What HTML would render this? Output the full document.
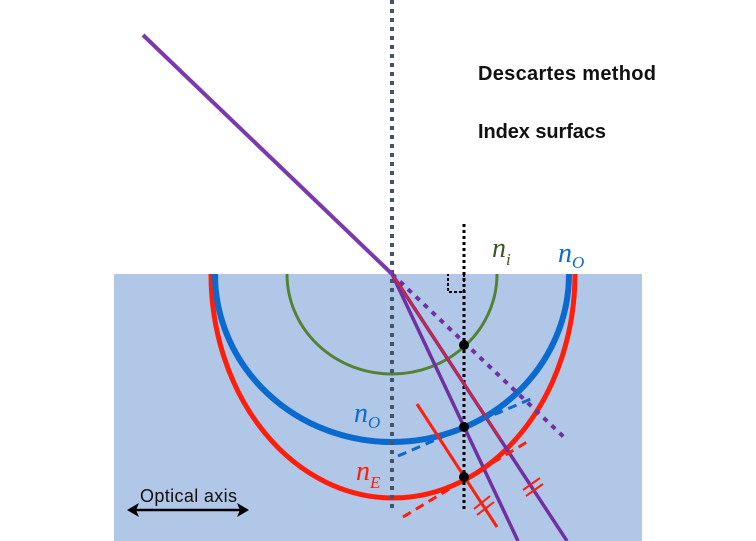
<!DOCTYPE html>
<html><head><meta charset="utf-8"><style>
html,body{margin:0;padding:0;background:#fff;width:756px;height:541px;overflow:hidden}
svg{display:block}
</style></head><body>
<svg width="756" height="541" viewBox="0 0 756 541" xmlns="http://www.w3.org/2000/svg">
<rect x="114" y="274" width="528" height="267" fill="#b0c7e7"/>
<text x="478" y="80" font-family="Liberation Sans, sans-serif" font-weight="bold" font-size="20" fill="#111" textLength="178">Descartes method</text>
<text x="478" y="138" font-family="Liberation Sans, sans-serif" font-weight="bold" font-size="20" fill="#111" textLength="128">Index surfacs</text>
<!-- arcs -->
<path d="M287,274 A105,100 0 0 0 497,274" fill="none" stroke="#548235" stroke-width="3"/>
<path d="M211,274 A182,224 0 0 0 575,274" fill="none" stroke="#fe1e0a" stroke-width="5"/>
<path d="M215,274 A177,168 0 0 0 569,274" fill="none" stroke="#0a6ad0" stroke-width="6"/>
<!-- vertical dotted lines -->
<line x1="392" y1="0" x2="392" y2="512" stroke="#44546a" stroke-width="4" stroke-dasharray="4,5"/>
<line x1="464" y1="224" x2="464" y2="510" stroke="#000" stroke-width="3" stroke-dasharray="3,3"/>
<path d="M464,274 V292 H448 V274" fill="none" stroke="#000" stroke-width="2" stroke-dasharray="3,2"/>
<!-- purple rays -->
<line x1="143" y1="35" x2="392" y2="274" stroke="#7a3aad" stroke-width="4"/>
<line x1="392" y1="274" x2="567" y2="440" stroke="#7030a0" stroke-width="4" stroke-dasharray="5,6"/>
<line x1="392" y1="274" x2="518" y2="541" stroke="#7030a0" stroke-width="3.5"/>
<line x1="392" y1="274" x2="567" y2="541" stroke="#7030a0" stroke-width="3.5"/>
<line x1="394" y1="277" x2="501" y2="440" stroke="#fe1e0a" stroke-width="1.5"/>
<!-- tangents -->
<line x1="398" y1="456" x2="533" y2="398" stroke="#0a6ad0" stroke-width="3" stroke-dasharray="9,6"/>
<line x1="403" y1="517" x2="527" y2="442" stroke="#fe1e0a" stroke-width="3" stroke-dasharray="9,6"/>
<line x1="417" y1="404" x2="497" y2="527" stroke="#fe1e0a" stroke-width="3"/>
<!-- ticks -->
<g stroke="#fe1e0a" stroke-width="2">
<line x1="474" y1="509" x2="490" y2="496"/><line x1="477" y1="515" x2="494" y2="502"/>
<line x1="523" y1="490" x2="540" y2="478"/><line x1="526" y1="496" x2="543" y2="484"/>
</g>
<circle cx="464" cy="345" r="5" fill="#000"/>
<circle cx="464" cy="427" r="5" fill="#000"/>
<circle cx="464" cy="477" r="5" fill="#000"/>
<!-- labels -->
<g font-family="Liberation Serif, serif" font-style="italic">
<text x="492" y="257" font-size="28" fill="#385723">n<tspan font-size="17" dy="8">i</tspan></text>
<text x="558" y="262" font-size="28" fill="#0a6ad0">n<tspan font-size="17" dy="6">O</tspan></text>
<text x="354" y="422" font-size="28" fill="#0a6ad0">n<tspan font-size="17" dy="6">O</tspan></text>
<text x="356" y="480" font-size="28" fill="#fe1e0a">n<tspan font-size="17" dy="8">E</tspan></text>
</g>
<text x="140" y="502" font-family="Liberation Sans, sans-serif" font-size="18" fill="#111" textLength="97">Optical axis</text>
<line x1="134" y1="510" x2="242" y2="510" stroke="#000" stroke-width="2.5"/>
<path d="M127,510 L139,503 L136,510 L139,517 Z" fill="#000"/>
<path d="M249,510 L237,503 L240,510 L237,517 Z" fill="#000"/>
</svg>
</body></html>
